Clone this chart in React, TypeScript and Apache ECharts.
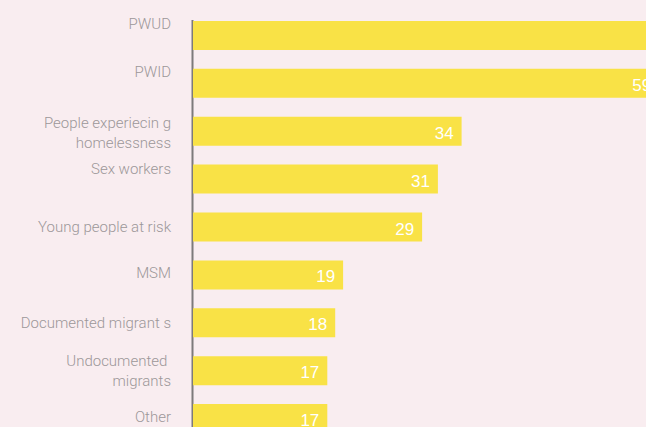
import React, { useEffect, useRef } from "react";
import * as echarts from "echarts";

const categories = [
  "PWUD",
  "PWID",
  "People experiecin g\nhomelessness",
  "Sex workers",
  "Young people at risk",
  "MSM",
  "Documented migrant s",
  "Undocumented \nmigrants",
  "Other",
];
const values = [66, 59, 34, 31, 29, 19, 18, 17, 17];

// vertical nudge of each category label (px, negative = up)
const labelShift: Record<string, number> = {
  PWUD: -11,
  PWID: -11.5,
  "People experiecin g\nhomelessness": 2,
  "Sex workers": -10,
  MSM: -1.5,
  Other: -1.5,
};

export default function App() {
  const ref = useRef<HTMLDivElement>(null);
  useEffect(() => {
    if (!ref.current) return;
    const chart = echarts.init(ref.current, undefined, { renderer: "svg" });
    const barWidth = 29;
    const rich: Record<string, any> = {};
    const shiftKeys: Record<string, string> = {};
    Object.keys(labelShift).forEach((k, i) => {
      const s = labelShift[k];
      const key = "s" + i;
      shiftKeys[k] = key;
      rich[key] = {
        padding: s < 0 ? [0, 0, -2 * s, 0] : [2 * s, 0, 0, 0],
      };
    });
    chart.setOption({
      animation: false,
      backgroundColor: "#f9edf0",
      grid: { left: 193, top: 11.5, width: 632, height: 431 },
      xAxis: {
        type: "value",
        min: 0,
        max: 80,
        show: false,
      },
      yAxis: {
        type: "category",
        inverse: true,
        data: categories,
        axisLine: { show: false },
        axisTick: { show: false },
        axisLabel: {
          margin: 22,
          color: "#9c9799",
          fontFamily: "Roboto",
          fontWeight: 300,
          fontSize: 15,
          lineHeight: 20,
          align: "right",
          rich,
          formatter: (v: string) =>
            shiftKeys[v]
              ? v
                  .split("\n")
                  .map((line) => `{${shiftKeys[v]}|${line}}`)
                  .join("\n")
              : v,
        },
      },
      series: [
        {
          type: "bar",
          data: values,
          barWidth,
          itemStyle: { color: "#f9e246" },
          label: {
            show: true,
            position: "insideRight",
            distance: 8,
            offset: [0, 2],
            color: "#ffffff",
            fontFamily: "Liberation Sans",
            fontSize: 17,
          },
          z: 2,
        },
      ],
    });
    const x0 = chart.convertToPixel({ xAxisIndex: 0 }, 0) as number;
    const yTop =
      (chart.convertToPixel({ yAxisIndex: 0 }, categories[0]) as number) -
      barWidth / 2 -
      1;
    chart.setOption({
      graphic: [
        {
          type: "line",
          z: 1,
          shape: { x1: x0 - 0.5, y1: yTop, x2: x0 - 0.5, y2: 460 },
          style: { stroke: "#7d7a7b", lineWidth: 2 },
        },
      ],
    });
    return () => chart.dispose();
  }, []);
  return (
    <div
      style={{
        position: "fixed",
        left: 0,
        top: 0,
        width: 646,
        height: 427,
        overflow: "hidden",
      }}
    >
      <div ref={ref} style={{ width: 900, height: 470 }} />
    </div>
  );
}
